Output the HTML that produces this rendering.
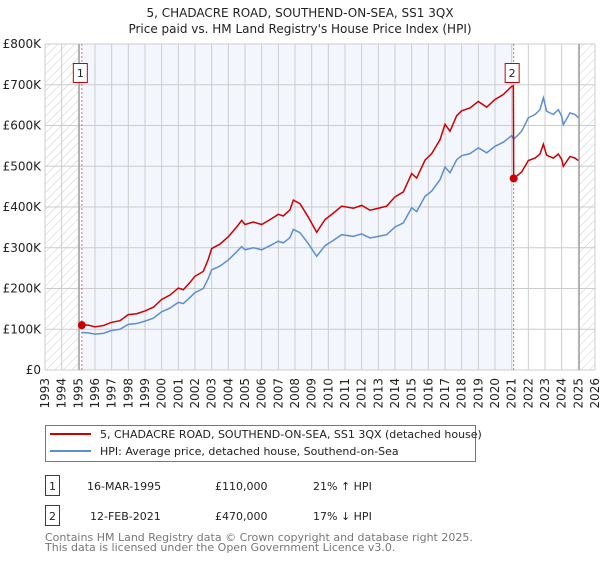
<!DOCTYPE html>
<html><head><meta charset="utf-8"><style>
body{margin:0;background:#fff;font-family:"DejaVu Sans","Liberation Sans",sans-serif;}
svg text{font-family:"DejaVu Sans","Liberation Sans",sans-serif;}
</style></head><body>
<svg id="chart" width="600" height="560" viewBox="0 0 600 560" xmlns="http://www.w3.org/2000/svg">
<defs>
<pattern id="hatch" width="6" height="6" patternUnits="userSpaceOnUse" patternTransform="rotate(45)">
<line x1="0" y1="0" x2="0" y2="6" stroke="#ccc" stroke-width="1"/>
</pattern>
</defs>
<text x="300" y="17" text-anchor="middle" font-size="12" fill="#222">5, CHADACRE ROAD, SOUTHEND-ON-SEA, SS1 3QX</text>
<text x="300" y="33" text-anchor="middle" font-size="12" fill="#222">Price paid vs. HM Land Registry's House Price Index (HPI)</text>
<g id="plot"></g>
<g>
<rect x="45.5" y="425.5" width="430" height="36" fill="#fff" stroke="#777"/>
<line x1="50" y1="434" x2="91" y2="434" stroke="#cc0000" stroke-width="2"/>
<text x="100" y="438" font-size="11" fill="#222">5, CHADACRE ROAD, SOUTHEND-ON-SEA, SS1 3QX (detached house)</text>
<line x1="50" y1="451" x2="91" y2="451" stroke="#5b8fd1" stroke-width="2"/>
<text x="100" y="455" font-size="11" fill="#222">HPI: Average price, detached house, Southend-on-Sea</text>
</g>
<g>
<rect x="45.5" y="475.5" width="14" height="20" fill="#fff" stroke="#cc0000"/>
<text x="52.5" y="490" text-anchor="middle" font-size="11" fill="#222">1</text>
<text x="87" y="490" font-size="11" fill="#222">16-MAR-1995</text>
<text x="215" y="490" font-size="11" fill="#222">£110,000</text>
<text x="313" y="490" font-size="11" fill="#222">21% ↑ HPI</text>
<rect x="45.5" y="505.5" width="14" height="20" fill="#fff" stroke="#cc0000"/>
<text x="52.5" y="520" text-anchor="middle" font-size="11" fill="#222">2</text>
<text x="90" y="520" font-size="11" fill="#222">12-FEB-2021</text>
<text x="215" y="520" font-size="11" fill="#222">£470,000</text>
<text x="313" y="520" font-size="11" fill="#222">17% ↓ HPI</text>
</g>
<text x="45" y="541" font-size="11" fill="#777">Contains HM Land Registry data © Crown copyright and database right 2025.</text>
<text x="45" y="551" font-size="11" fill="#777">This data is licensed under the Open Government Licence v3.0.</text>
</svg>
<script>
const hpiYears=[1995.2,1995.6,1996,1996.5,1997,1997.5,1998,1998.5,1999,1999.5,2000,2000.5,2001,2001.3,2001.7,2002,2002.5,2002.8,2003,2003.5,2004,2004.5,2004.8,2005,2005.5,2006,2006.5,2007,2007.3,2007.7,2007.9,2008.3,2008.8,2009.3,2009.8,2010.3,2010.8,2011.5,2012,2012.5,2013,2013.5,2014,2014.5,2015,2015.3,2015.8,2016.2,2016.7,2017,2017.3,2017.7,2018,2018.5,2019,2019.5,2020,2020.5,2021.0,2021.12,2021.6,2022,2022.4,2022.7,2022.9,2023.1,2023.5,2023.8,2024,2024.1,2024.5,2024.8,2025];
const hpiValues=[92,91,88,90,97,100,112,114,120,127,143,152,166,163,178,190,200,225,246,255,270,290,303,295,300,295,305,316,312,325,345,337,310,279,305,318,332,328,334,324,328,332,351,361,398,389,426,439,467,498,484,516,526,531,545,533,549,559,575,566,586,619,627,639,668,635,627,639,623,602,631,627,619];
const priceYears=[1995.2,1995.6,1996,1996.5,1997,1997.5,1998,1998.5,1999,1999.5,2000,2000.5,2001,2001.3,2001.7,2002,2002.5,2002.8,2003,2003.5,2004,2004.5,2004.8,2005,2005.5,2006,2006.5,2007,2007.3,2007.7,2007.9,2008.3,2008.8,2009.3,2009.8,2010.3,2010.8,2011.5,2012,2012.5,2013,2013.5,2014,2014.5,2015,2015.3,2015.8,2016.2,2016.7,2017,2017.3,2017.7,2018,2018.5,2019,2019.5,2020,2020.5,2021.0,2021.1,2021.12,2021.6,2022,2022.4,2022.7,2022.9,2023.1,2023.5,2023.8,2024,2024.1,2024.5,2024.8,2025];
const priceValues=[110,110,106,109,117,121,136,138,145,154,173,184,201,197,215,230,242,272,298,309,327,351,367,357,363,357,369,382,378,393,417,408,375,338,369,385,402,397,404,392,397,402,425,437,482,471,515,531,565,603,586,624,636,643,659,645,664,676,696,697,470,486,514,520,530,554,527,520,530,517,500,524,520,514];
const saleYears=[1995.21,2021.12];
const saleValues=[110,470];
const saleLabels=["1","2"];
const yTicks=[0,100,200,300,400,500,600,700,800];
const yTickLabels=["£0","£100K","£200K","£300K","£400K","£500K","£600K","£700K","£800K"];
const xTicks=[1993,1994,1995,1996,1997,1998,1999,2000,2001,2002,2003,2004,2005,2006,2007,2008,2009,2010,2011,2012,2013,2014,2015,2016,2017,2018,2019,2020,2021,2022,2023,2024,2025,2026];

const X0=45,X1=595,Y0=370,Y1=44;
const xs=y=>X0+(y-1993)/(2026-1993)*(X1-X0);
const ys=v=>Y0-v/800*(Y0-Y1);
const NS="http://www.w3.org/2000/svg";
const g=document.getElementById('plot');
function mk(t,a){const e=document.createElementNS(NS,t);for(const k in a)e.setAttribute(k,a[k]);g.appendChild(e);return e;}

let e;
e=mk('rect',{x:xs(1995.2),y:Y1,width:xs(2021.12)-xs(1995.2),height:Y0-Y1,fill:'#f3f6fd'});


e=mk('rect',{x:X0,y:Y1,width:xs(1995.05)-X0,height:Y0-Y1,fill:'url(#hatch)'});


e=mk('rect',{x:xs(2025.05),y:Y1,width:X1-xs(2025.05),height:Y0-Y1,fill:'url(#hatch)'});


xTicks.forEach((t,i)=>{
  e=mk('line',{x1:xs(t),x2:xs(t),y1:Y1,y2:Y0,stroke:'#ccc','stroke-width':1});
  
  
  e=mk('text',{x:0,y:0,'font-size':12,fill:'#222','text-anchor':'end',transform:`translate(${xs(t)+4},${Y0+8}) rotate(-90)`});
  e.textContent=t;
  
  
});
yTicks.forEach((t,i)=>{
  e=mk('line',{x1:X0,x2:X1,y1:ys(t),y2:ys(t),stroke:'#ccc','stroke-width':1});
  
  
  e=mk('text',{x:X0-4,y:ys(t)+4,'font-size':12,fill:'#222','text-anchor':'end'});
  e.textContent=yTickLabels[i];
  
  
});
e=mk('line',{x1:xs(1995.05),x2:xs(1995.05),y1:Y1,y2:Y0,stroke:'#888','stroke-width':1});


e=mk('line',{x1:xs(2025.05),x2:xs(2025.05),y1:Y1,y2:Y0,stroke:'#888','stroke-width':1});


saleYears.forEach((s,i)=>{
  e=mk('line',{x1:xs(s),x2:xs(s),y1:Y1,y2:Y0,stroke:'#e66','stroke-width':1,'stroke-dasharray':'2,2'});
  
  
});
e=mk('polyline',{points:hpiYears.map((y,i)=>xs(y)+','+ys(hpiValues[i])).join(' '),fill:'none',stroke:'#5b8fd1','stroke-width':1.5});


e=mk('polyline',{points:priceYears.map((y,i)=>xs(y)+','+ys(priceValues[i])).join(' '),fill:'none',stroke:'#cc0000','stroke-width':1.5});


saleYears.forEach((s,i)=>{
  e=mk('circle',{cx:xs(s),cy:ys(saleValues[i]),r:4,fill:'#cc0000'});
  
  
  e=mk('rect',{x:xs(s)-8.5,y:63.5,width:14,height:19,fill:'#fff',stroke:'#cc0000'});
  
  
  e=mk('text',{x:xs(s)-1.5,y:77,'font-size':11,fill:'#222','text-anchor':'middle'});
  e.textContent=saleLabels[i];
  
  
});
</script>
</body></html>
